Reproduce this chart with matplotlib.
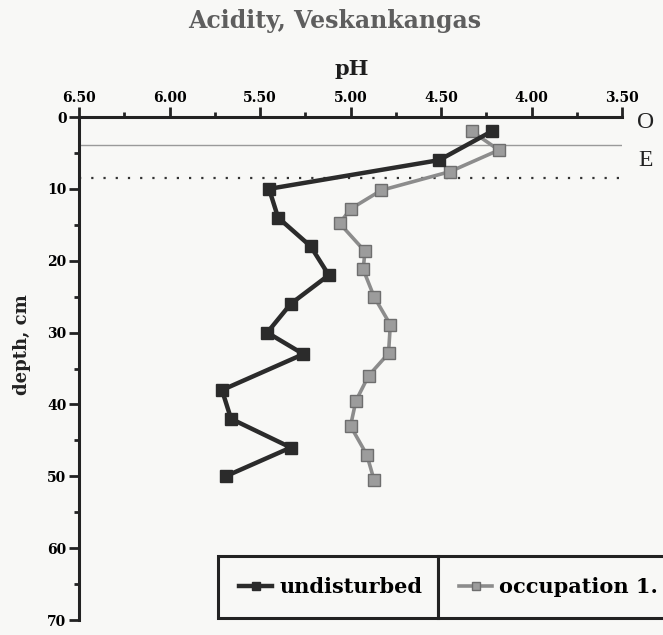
import matplotlib
matplotlib.use("Agg")
import matplotlib.pyplot as plt
from matplotlib.ticker import MultipleLocator

# ── Data ───────────────────────────────────────────────────────────────────────
depth_undisturbed = [2, 6, 10, 14, 18, 22, 26, 30, 33, 38, 42, 46, 50]
ph_undisturbed = [4.22, 4.51, 5.45, 5.40, 5.22, 5.12, 5.33, 5.46, 5.26,
                  5.71, 5.66, 5.33, 5.69]

depth_occupation = [2, 4.6, 7.6, 10.2, 12.8, 14.8, 18.7, 21.2, 25, 28.9,
                    32.9, 36, 39.5, 43, 47, 50.5]
ph_occupation = [4.33, 4.18, 4.45, 4.83, 5.00, 5.06, 4.92, 4.93, 4.87, 4.78,
                 4.79, 4.90, 4.97, 5.00, 4.91, 4.87]

horizon_depths = [3.9, 8.5]
horizon_styles = ["solid", "dotted"]
horizon_names = ["O", "E"]
horizon_label_depths = [0.8, 6.0]

x_ticks = [6.5, 6.0, 5.5, 5.0, 4.5, 4.0, 3.5]
y_ticks = [0, 10, 20, 30, 40, 50, 60, 70]

SERIF = "DejaVu Serif"
BG = "#f8f8f6"
DARK = "#2b2b2b"
GREY = "#8c8c8c"
W, H = 663, 635

fig = plt.figure(figsize=(W / 100, H / 100), dpi=100, facecolor=BG)
ax = fig.add_axes([79 / W, 1 - 620 / H, 543 / W, 503 / H])
ax.set_facecolor(BG)

# horizon boundaries
for d, style in zip(horizon_depths, horizon_styles):
    if style == "solid":
        ax.axhline(d, color="#9a9a9a", lw=1.0)
    else:
        ax.axhline(d, color="#333333", lw=1.6, linestyle=(0, (1, 4.5)))

line_u, = ax.plot(ph_undisturbed, depth_undisturbed, "-s", color=DARK, lw=3.2,
                  ms=9, mec=DARK, mfc=DARK, label="undisturbed",
                  clip_on=False, zorder=4)
line_o, = ax.plot(ph_occupation, depth_occupation, "-s", color=GREY, lw=2.6,
                  ms=8, mec="#6e6e6e", mfc="#9c9c9c", label="occupation 1.",
                  clip_on=False, zorder=3)

ax.set_xlim(6.5, 3.5)
ax.set_ylim(70, 0)

# axes styling: x axis on top, depth axis on left only
for side in ["right", "bottom"]:
    ax.spines[side].set_visible(False)
for side in ["left", "top"]:
    ax.spines[side].set_linewidth(2.2)
    ax.spines[side].set_color("#222222")

ax.xaxis.tick_top()
ax.set_xticks(x_ticks)
ax.set_xticklabels([f"{v:.2f}" for v in x_ticks], fontsize=10,
                   fontfamily=SERIF, fontweight="bold")
ax.xaxis.set_minor_locator(MultipleLocator(0.25))
ax.set_yticks(y_ticks)
ax.set_yticklabels([str(v) for v in y_ticks], fontsize=10,
                   fontfamily=SERIF, fontweight="bold")
ax.yaxis.set_minor_locator(MultipleLocator(5))
ax.tick_params(which="major", length=7, width=2, color="#222222", pad=2)
ax.tick_params(which="minor", length=3.5, width=2, color="#222222")
ax.tick_params(axis="x", which="both", top=True, bottom=False)

fig.text(335 / W, 1 - 21 / H, "Acidity, Veskankangas", ha="center", va="center",
         fontsize=17, fontfamily=SERIF, fontweight="bold", color="#5e5e5e")
fig.text(352 / W, 1 - 69 / H, "pH", ha="center", va="center",
         fontsize=15, fontfamily=SERIF, fontweight="bold", color="#1e1e1e")
fig.text(22 / W, 1 - 345 / H, "depth, cm", rotation=90, ha="center", va="center",
         fontsize=13, fontfamily=SERIF, fontweight="bold", color="#222222")

for name, d in zip(horizon_names, horizon_label_depths):
    ax.annotate(name, xy=(1, d), xycoords=("axes fraction", "data"),
                xytext=(17, 0), textcoords="offset points", ha="center", va="center",
                fontsize=17, fontfamily="Liberation Serif", color="#222222",
                annotation_clip=False)


# legend: two boxed cells side by side, right one running to the figure edge
def legend_cell(handle, x0, x1):
    leg = ax.legend([handle], [handle.get_label()], loc="center left",
                    bbox_to_anchor=(x0 / W, 1 - 622 / H, (x1 - x0) / W, 70 / H),
                    bbox_transform=fig.transFigure, mode="expand",
                    borderaxespad=0, fancybox=False, borderpad=1.0,
                    handlelength=1.6, handletextpad=0.35,
                    prop={"family": SERIF, "weight": "bold", "size": 15},
                    markerscale=0.7)
    frame = leg.get_frame()
    frame.set_edgecolor("#222222")
    frame.set_linewidth(2.2)
    frame.set_facecolor(BG)
    frame.set_alpha(1)
    return leg


leg1 = legend_cell(line_u, 218, 438)
ax.add_artist(leg1)
legend_cell(line_o, 438, 666)

fig.savefig("out.png", dpi=100, facecolor=BG)
